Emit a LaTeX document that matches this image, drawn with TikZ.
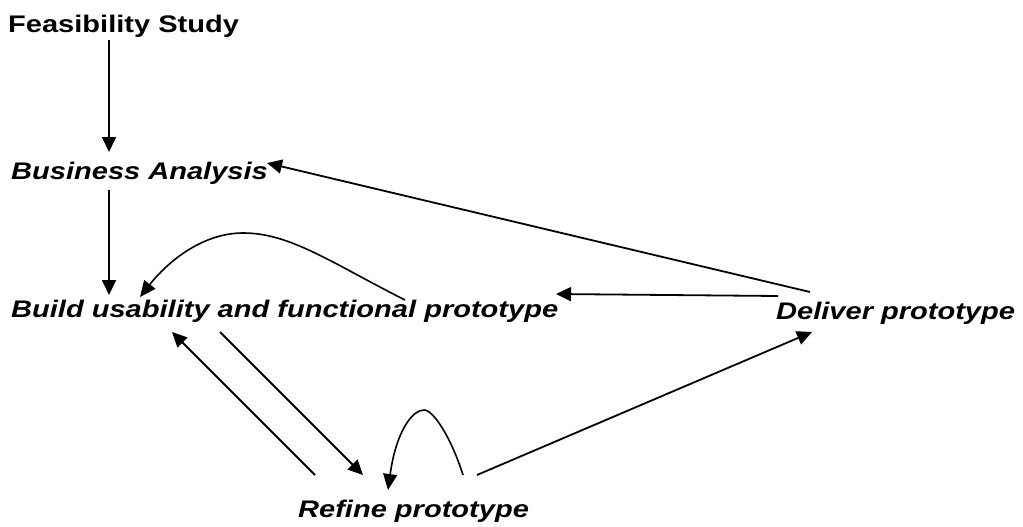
\documentclass[tikz,border=0pt]{standalone}
\usepackage{fontspec}
\setmainfont{Liberation Sans}[FakeStretch=1.21]
\usetikzlibrary{arrows.meta,calc}
\begin{document}
\begin{tikzpicture}[x=1pt,y=-1pt,
  lbl/.style={inner sep=0pt,anchor=base west,font=\fontsize{24}{29}\selectfont\bfseries\itshape},
  arr/.style={-{Triangle[length=15pt,width=14pt]},line width=1.8pt},
  curv/.style={-{Triangle[length=16pt,width=14pt]},line width=1.6pt}]
\useasboundingbox (0,0) rectangle (1023,527);

% stages
\node[lbl,font=\fontsize{24}{29}\selectfont\bfseries] (feas) at (8,33) {Feasibility Study};
\node[lbl] (bus) at (11,179.5) {Business Analysis};
\node[lbl] (build) at (11,317) {Build usability and functional prototype};
\node[lbl] (deliver) at (776,319) {Deliver prototype};
\node[lbl] (refine) at (298,517) {Refine prototype};

% straight transitions
\draw[arr] ($(feas.base west)+(101,7)$) -- ($(bus.base west)+(98,-27.5)$);
\draw[arr] ($(bus.base west)+(98,10.5)$) -- ($(build.base west)+(98,-22)$);
\draw[arr] ($(deliver.base west)+(2,-23)$) -- ($(build.base west)+(545,-23)$);
\draw[arr] ($(deliver.base west)+(34,-27)$) -- ($(bus.base west)+(256,-16.5)$);
\draw[arr] ($(build.base west)+(209,15)$) -- ($(refine.base west)+(65,-42)$);
\draw[arr] ($(refine.base west)+(17,-42)$) -- ($(build.base west)+(161,15)$);
\draw[arr] ($(refine.base west)+(179,-42)$) -- ($(deliver.base west)+(36,13)$);

% iteration loops
\draw[curv] ($(build.base west)+(394,-17)$)
  .. controls (330,262) and (290,233) .. (243,233)
  .. controls (200,233) and (165,265) .. ($(build.base west)+(129,-20)$);
\draw[curv] ($(refine.base west)+(165,-42)$)
  .. controls (452,440) and (434,410) .. (424,410)
  .. controls (412,410) and (396,432) .. ($(refine.base west)+(90,-27)$);
\end{tikzpicture}
\end{document}
